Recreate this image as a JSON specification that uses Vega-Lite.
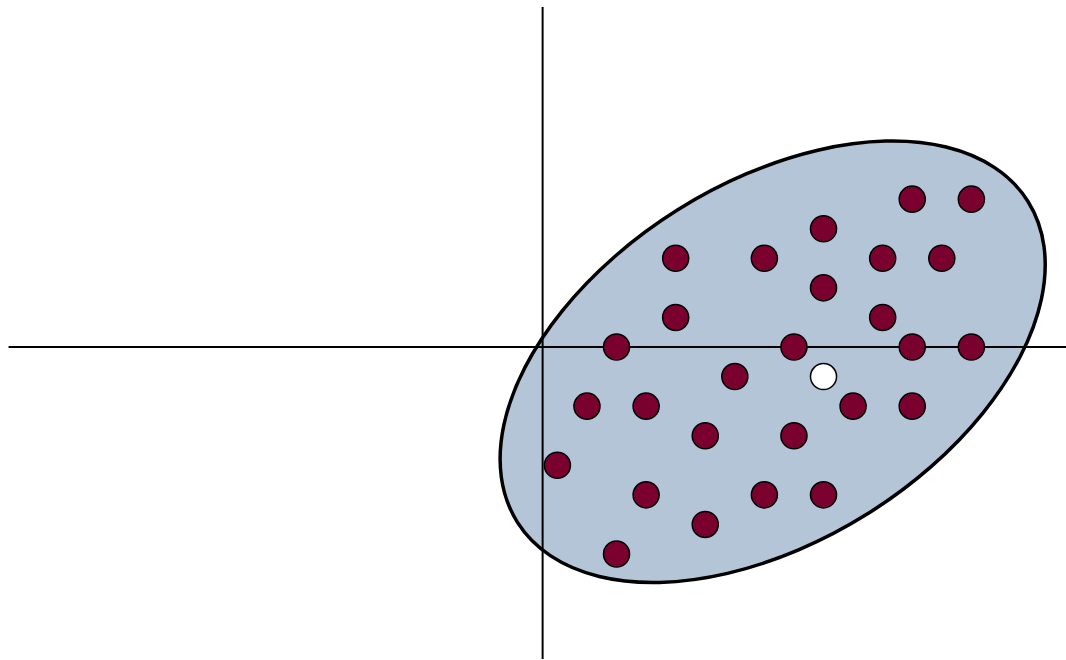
{
  "$schema": "https://vega.github.io/schema/vega-lite/v6.json",
  "width": 1066,
  "height": 660,
  "padding": 0,
  "autosize": {"type": "none"},
  "background": "white",
  "config": {"view": {"stroke": null}},
  "datasets": {
    "ellipse": [
      {"i": 0, "x": 16.415, "y": 4.922},
      {"i": 1, "x": 15.287, "y": 6.065},
      {"i": 2, "x": 13.646, "y": 6.762},
      {"i": 3, "x": 11.607, "y": 6.963},
      {"i": 4, "x": 9.307, "y": 6.655},
      {"i": 5, "x": 6.902, "y": 5.86},
      {"i": 6, "x": 4.557, "y": 4.632},
      {"i": 7, "x": 2.432, "y": 3.054},
      {"i": 8, "x": 0.671, "y": 1.233},
      {"i": 9, "x": -0.605, "y": -0.705},
      {"i": 10, "x": -1.31, "y": -2.63},
      {"i": 11, "x": -1.395, "y": -4.409},
      {"i": 12, "x": -0.855, "y": -5.922},
      {"i": 13, "x": 0.273, "y": -7.065},
      {"i": 14, "x": 1.914, "y": -7.762},
      {"i": 15, "x": 3.953, "y": -7.963},
      {"i": 16, "x": 6.253, "y": -7.655},
      {"i": 17, "x": 8.658, "y": -6.86},
      {"i": 18, "x": 11.003, "y": -5.632},
      {"i": 19, "x": 13.128, "y": -4.054},
      {"i": 20, "x": 14.889, "y": -2.233},
      {"i": 21, "x": 16.165, "y": -0.295},
      {"i": 22, "x": 16.87, "y": 1.63},
      {"i": 23, "x": 16.955, "y": 3.409}
    ],
    "axes": [
      {"dir": "h", "x": -18.06, "x2": 17.72, "y": 0, "y2": 0},
      {"dir": "v", "x": 0, "x2": 0, "y": 11.5, "y2": -10.55}
    ],
    "points": [
      {"x": 12.5, "y": 5, "kind": "sample"},
      {"x": 14.5, "y": 5, "kind": "sample"},
      {"x": 9.5, "y": 4, "kind": "sample"},
      {"x": 4.5, "y": 3, "kind": "sample"},
      {"x": 7.5, "y": 3, "kind": "sample"},
      {"x": 11.5, "y": 3, "kind": "sample"},
      {"x": 13.5, "y": 3, "kind": "sample"},
      {"x": 9.5, "y": 2, "kind": "sample"},
      {"x": 4.5, "y": 1, "kind": "sample"},
      {"x": 11.5, "y": 1, "kind": "sample"},
      {"x": 2.5, "y": 0, "kind": "sample"},
      {"x": 8.5, "y": 0, "kind": "sample"},
      {"x": 12.5, "y": 0, "kind": "sample"},
      {"x": 14.5, "y": 0, "kind": "sample"},
      {"x": 6.5, "y": -1, "kind": "sample"},
      {"x": 9.5, "y": -1, "kind": "test"},
      {"x": 1.5, "y": -2, "kind": "sample"},
      {"x": 3.5, "y": -2, "kind": "sample"},
      {"x": 10.5, "y": -2, "kind": "sample"},
      {"x": 12.5, "y": -2, "kind": "sample"},
      {"x": 5.5, "y": -3, "kind": "sample"},
      {"x": 8.5, "y": -3, "kind": "sample"},
      {"x": 0.5, "y": -4, "kind": "sample"},
      {"x": 3.5, "y": -5, "kind": "sample"},
      {"x": 7.5, "y": -5, "kind": "sample"},
      {"x": 9.5, "y": -5, "kind": "sample"},
      {"x": 5.5, "y": -6, "kind": "sample"},
      {"x": 2.5, "y": -7, "kind": "sample"}
    ]
  },
  "resolve": {"scale": {"x": "shared", "y": "shared"}},
  "layer": [
    {
      "data": {"name": "ellipse"},
      "mark": {"type": "line", "interpolate": "cardinal-closed", "fill": "#b5c5d8", "stroke": "#000000", "strokeWidth": 3.5},
      "encoding": {
        "x": {"field": "x", "type": "quantitative", "scale": {"domain": [-18.35, 17.70], "nice": false, "zero": false}, "axis": null},
        "y": {"field": "y", "type": "quantitative", "scale": {"domain": [-10.585, 11.735], "nice": false, "zero": false}, "axis": null},
        "order": {"field": "i", "type": "quantitative"}
      }
    },
    {
      "data": {"name": "axes"},
      "mark": {"type": "rule", "color": "#000000", "strokeWidth": 2},
      "encoding": {
        "x": {"field": "x", "type": "quantitative"},
        "x2": {"field": "x2"},
        "y": {"field": "y", "type": "quantitative"},
        "y2": {"field": "y2"}
      }
    },
    {
      "data": {"name": "points"},
      "mark": {"type": "point", "shape": "circle", "filled": true, "size": 680, "stroke": "#000000", "strokeWidth": 1.5, "opacity": 1},
      "encoding": {
        "x": {"field": "x", "type": "quantitative"},
        "y": {"field": "y", "type": "quantitative"},
        "fill": {"field": "kind", "type": "nominal", "scale": {"domain": ["sample", "test"], "range": ["#7a002d", "#ffffff"]}, "legend": null}
      }
    }
  ]
}
